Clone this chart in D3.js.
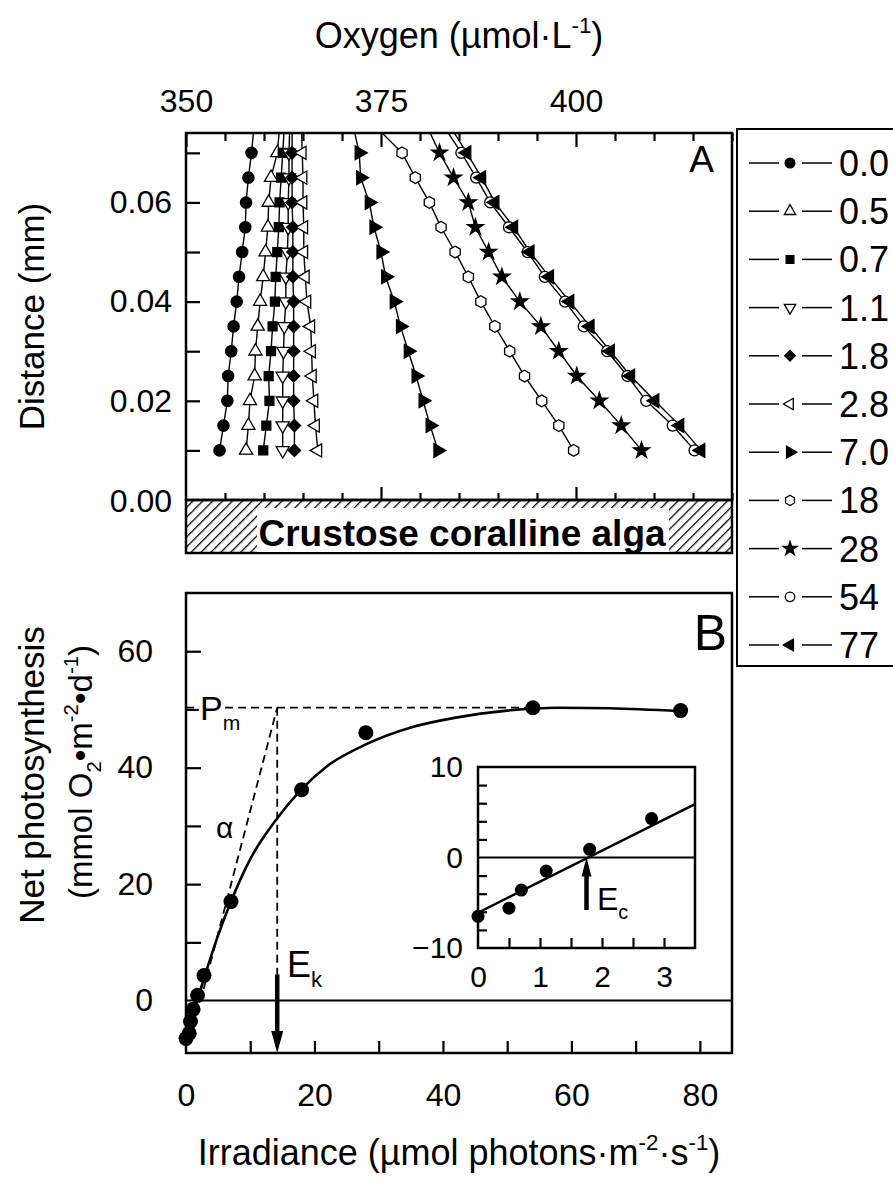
<!DOCTYPE html>
<html>
<head>
<meta charset="utf-8">
<script src="https://cdn.jsdelivr.net/npm/d3@7"></script>
<style>
  body { margin: 0; background: #fff; }
  text { font-family: 'Liberation Sans', Arial, Helvetica, sans-serif; fill: #000; }
</style>
</head>
<body>
<svg id="viz"></svg>
<script>
// ---- panel A data: oxygen profiles (umol/L) at each distance (mm) ----
const distances = [0.01, 0.015, 0.02, 0.025, 0.03, 0.035, 0.04, 0.045, 0.05, 0.055, 0.06, 0.065, 0.07, 0.075];
const irradianceLevels = ['0.0', '0.5', '0.7', '1.1', '1.8', '2.8', '7.0', '18', '28', '54', '77'];
const oxy00 = [354.3, 354.8, 355.3, 355.4, 355.8, 356.1, 356.5, 356.8, 357.2, 357.6, 357.7, 358.0, 358.4, 358.7];
const oxy05 = [357.7, 358.0, 358.2, 358.8, 358.9, 359.2, 359.5, 359.9, 360.2, 360.5, 360.6, 360.9, 361.7, 362.0];
const oxy07 = [359.9, 360.3, 360.7, 360.6, 360.9, 361.1, 361.4, 361.5, 361.7, 361.9, 362.0, 362.2, 362.4, 362.6];
const oxy11 = [362.4, 362.4, 362.4, 362.4, 362.5, 362.6, 362.8, 362.8, 363.0, 363.1, 363.1, 363.2, 363.2, 363.3];
const oxy18 = [363.9, 363.9, 363.8, 363.8, 363.8, 363.8, 363.8, 363.7, 363.7, 363.7, 363.6, 363.6, 363.6, 363.6];
const oxy28 = [366.9, 366.6, 366.4, 366.2, 366.1, 366.0, 365.5, 365.3, 365.1, 365.1, 365.0, 365.0, 364.9, 364.8];
const oxy70 = [382.3, 381.3, 380.4, 379.5, 378.5, 377.5, 376.7, 375.6, 375.0, 374.1, 373.5, 372.4, 372.2, 371.5];
const oxy180 = [399.7, 397.8, 395.6, 393.4, 391.5, 389.6, 387.8, 386.2, 384.5, 382.7, 381.2, 379.4, 377.7, 374.5];
const oxy280 = [408.4, 405.8, 403.0, 400.1, 397.8, 395.5, 392.8, 390.5, 388.8, 387.1, 386.2, 384.3, 382.5, 381.0];
const oxy540 = [415.2, 412.4, 409.0, 406.6, 404.0, 401.0, 398.6, 396.0, 393.8, 391.4, 389.0, 387.2, 385.3, 383.2];
const oxy770 = [416.0, 413.3, 410.1, 407.0, 404.4, 401.8, 399.2, 396.6, 394.1, 392.0, 389.6, 387.9, 386.0, 384.0];
const oxyTicks = [350, 375, 400];
const distTicks = [0.00, 0.02, 0.04, 0.06];

// ---- panel B data: P-E curve ----
const irradiance = [0, 0.5, 0.7, 1.1, 1.8, 2.8, 7.0, 18, 28, 54, 77];
const netPhoto = [-6.5, -5.6, -3.6, -1.5, 0.9, 4.3, 17.0, 36.2, 46.0, 50.3, 49.8];
const fitIrr = [0, 1, 2, 3, 5, 7, 10, 14, 18, 22, 28, 35, 42, 50, 58, 66, 77];
const fitNet = [-7.0, -3.0, 0.9, 4.5, 11.2, 17.0, 24.3, 31.0, 36.3, 40.3, 44.0, 46.9, 48.6, 49.8, 50.3, 50.2, 49.7];
const Pm = 50.3;
const Ek = 14.2;
const alphaStart = [1.2, -4.5];
const ekArrowTop = 4.5;
const irrTicks = [0, 20, 40, 60, 80];
const netTicks = [0, 20, 40, 60];
// inset
const insetLine = [[0, -6.1], [3.5, 5.9]];
const Ec = 1.75;
const ecArrowBottom = -5.8;
const insetXTicks = [0, 1, 2, 3];
const insetYTicks = [-10, 0, 10];

const W = 893, H = 1178;
const svg = d3.select('#viz').attr('width', W).attr('height', H);

// symbol helpers
const symHexagon = {
  draw(ctx, size) {
    const r = Math.sqrt(size / 2.598);
    for (let i = 0; i < 6; i++) {
      const a = (-90 + 60 * i) * Math.PI / 180;
      if (i === 0) ctx.moveTo(r * Math.cos(a), r * Math.sin(a));
      else ctx.lineTo(r * Math.cos(a), r * Math.sin(a));
    }
    ctx.closePath();
  }
};
const markers = [
  { type: d3.symbolCircle, rot: 0, filled: true, size: 100 },
  { type: d3.symbolTriangle, rot: 0, filled: false, size: 75 },
  { type: d3.symbolSquare, rot: 0, filled: true, size: 80 },
  { type: d3.symbolTriangle, rot: 180, filled: false, size: 75 },
  { type: d3.symbolSquare, rot: 45, filled: true, size: 75 },
  { type: d3.symbolTriangle, rot: -90, filled: false, size: 75 },
  { type: d3.symbolTriangle, rot: 90, filled: true, size: 82 },
  { type: symHexagon, rot: 0, filled: false, size: 90 },
  { type: d3.symbolStar, rot: 0, filled: true, size: 80 },
  { type: d3.symbolCircle, rot: 0, filled: false, size: 95 },
  { type: d3.symbolTriangle, rot: -90, filled: true, size: 82 }
];
const seriesValues = [oxy00, oxy05, oxy07, oxy11, oxy18, oxy28, oxy70, oxy180, oxy280, oxy540, oxy770];

function richText(sel, parts, size) {
  let cur = 0;
  parts.forEach(([t, k]) => {
    const target = k === 'sup' ? -size * 0.42 : k === 'sub' ? size * 0.28 : 0;
    const ts = sel.append('tspan').text(t).attr('dy', target - cur);
    if (k) ts.attr('font-size', size * 0.62);
    cur = target;
  });
}

function styleAxis(g, fs) {
  g.select('.domain').remove();
  g.selectAll('.tick line').attr('stroke', '#000').attr('stroke-width', 2.2);
  g.selectAll('.tick text').attr('font-size', fs).attr('fill', '#000')
    .style('font-family', "'Liberation Sans', Arial, sans-serif");
}

// ================= PANEL A =================
const xA = d3.scaleLinear().domain([350, 420]).range([186, 732]);
const yA = d3.scaleLinear().domain([0, 0.074]).range([500, 133]);

svg.append('defs').append('clipPath').attr('id', 'clipA')
  .append('rect').attr('x', 186).attr('y', 133).attr('width', 546).attr('height', 367);

const hatch = svg.select('defs').append('pattern').attr('id', 'hatch')
  .attr('patternUnits', 'userSpaceOnUse').attr('width', 7).attr('height', 7)
  .attr('patternTransform', 'rotate(45)');
hatch.append('line').attr('x1', 0).attr('y1', 0).attr('x2', 0).attr('y2', 7)
  .attr('stroke', '#000').attr('stroke-width', 2.6);

// alga band
svg.append('rect').attr('x', 186).attr('y', yA(0)).attr('width', 546).attr('height', 53)
  .attr('fill', 'url(#hatch)').attr('stroke', '#000').attr('stroke-width', 2.5);
svg.append('rect').attr('x', 257).attr('y', yA(0) + 8).attr('width', 412).attr('height', 44).attr('fill', '#fff');
svg.append('text').attr('x', 462).attr('y', 546).attr('text-anchor', 'middle')
  .attr('font-size', 37).attr('font-weight', 'bold').text('Crustose coralline alga');

// axes A
svg.append('g').attr('transform', `translate(0,${yA.range()[1]})`)
  .call(d3.axisTop(xA).tickValues(d3.range(350, 421, 5).filter(v => v % 25 !== 0)).tickSize(-8).tickFormat(''))
  .call(g => styleAxis(g, 30));
svg.append('g').attr('transform', `translate(0,${yA.range()[1]})`)
  .call(d3.axisTop(xA).tickValues(oxyTicks).tickSize(-14).tickPadding(21))
  .call(g => styleAxis(g, 32));
svg.append('g').attr('transform', `translate(0,${yA(0)})`)
  .call(d3.axisBottom(xA).tickValues(d3.range(355, 421, 5).filter(v => v % 25 !== 0)).tickSize(-7).tickFormat(''))
  .call(g => styleAxis(g, 30));
svg.append('g').attr('transform', `translate(0,${yA(0)})`)
  .call(d3.axisBottom(xA).tickValues([375, 400]).tickSize(-13).tickFormat(''))
  .call(g => styleAxis(g, 30));
svg.append('g').attr('transform', `translate(${xA.range()[0]},0)`)
  .call(d3.axisLeft(yA).tickValues([0.01, 0.03, 0.05, 0.07]).tickSize(-14).tickFormat(''))
  .call(g => styleAxis(g, 30));
svg.append('g').attr('transform', `translate(${xA.range()[0]},0)`)
  .call(d3.axisLeft(yA).tickValues(distTicks.slice(1)).tickSize(-14).tickPadding(14).tickFormat(d3.format('.2f')))
  .call(g => styleAxis(g, 32));
svg.append('text').attr('x', 172).attr('y', yA(0)).attr('dy', '0.36em').attr('text-anchor', 'end')
  .attr('font-size', 32).text(d3.format('.2f')(distTicks[0]));

// series
const plotA = svg.append('g').attr('clip-path', 'url(#clipA)');
const lineA = d3.line().x(d => xA(d[0])).y(d => yA(d[1]));
seriesValues.forEach((vals, i) => {
  const pts = vals.map((v, j) => [v, distances[j]]);
  plotA.append('path').attr('d', lineA(pts)).attr('fill', 'none')
    .attr('stroke', '#000').attr('stroke-width', 1.4);
});
seriesValues.forEach((vals, i) => {
  const m = markers[i];
  const pts = vals.map((v, j) => [v, distances[j]]).filter(p => p[1] <= yA.domain()[1]);
  plotA.selectAll(null).data(pts).join('path')
    .attr('d', d3.symbol().type(m.type).size(m.size))
    .attr('transform', d => `translate(${xA(d[0])},${yA(d[1])}) rotate(${m.rot})`)
    .attr('fill', m.filled ? '#000' : '#fff').attr('stroke', '#000').attr('stroke-width', 1.3);
});

svg.append('rect').attr('x', 186).attr('y', 133).attr('width', 546).attr('height', 367)
  .attr('fill', 'none').attr('stroke', '#000').attr('stroke-width', 2.5);
svg.append('text').attr('x', 714).attr('y', 172).attr('text-anchor', 'end').attr('font-size', 37).text('A');

// titles A
richText(svg.append('text').attr('x', 459).attr('y', 48).attr('text-anchor', 'middle').attr('font-size', 36),
  [['Oxygen (\u00b5mol\u00b7L', null], ['-1', 'sup'], [')', null]], 36);
svg.append('text').attr('transform', `translate(44,${(133 + 500) / 2}) rotate(-90)`)
  .attr('text-anchor', 'middle').attr('font-size', 35).text('Distance (mm)');

// legend
svg.append('rect').attr('x', 737).attr('y', 129).attr('width', 170).attr('height', 537)
  .attr('fill', '#fff').attr('stroke', '#000').attr('stroke-width', 2);
const legY = d3.scalePoint().domain(irradianceLevels).range([163, 645]);
irradianceLevels.forEach((lab, i) => {
  const y = legY(lab), m = markers[i];
  svg.append('line').attr('x1', 749).attr('x2', 779).attr('y1', y).attr('y2', y).attr('stroke', '#000').attr('stroke-width', 1.5);
  svg.append('line').attr('x1', 802).attr('x2', 832).attr('y1', y).attr('y2', y).attr('stroke', '#000').attr('stroke-width', 1.5);
  svg.append('path').attr('d', d3.symbol().type(m.type).size(m.size * 0.75))
    .attr('transform', `translate(790,${y}) rotate(${m.rot})`)
    .attr('fill', m.filled ? '#000' : '#fff').attr('stroke', '#000').attr('stroke-width', 1.3);
  svg.append('text').attr('x', 839).attr('y', y).attr('dy', '0.36em').attr('font-size', 36).text(lab);
});

// ================= PANEL B =================
const xB = d3.scaleLinear().domain([0, 85]).range([186, 732]);
const yB = d3.scaleLinear().domain([-9, 70]).range([1053, 593]);

svg.append('g').attr('transform', `translate(0,${yB.range()[0]})`)
  .call(d3.axisBottom(xB).tickValues(d3.range(10, 81, 20)).tickSize(-12).tickFormat(''))
  .call(g => styleAxis(g, 30));
svg.append('g').attr('transform', `translate(0,${yB.range()[0]})`)
  .call(d3.axisBottom(xB).tickValues(irrTicks).tickSize(-12).tickPadding(30))
  .call(g => styleAxis(g, 32))
  .call(g => g.select('.tick line').remove());
svg.append('g').attr('transform', `translate(${xB.range()[0]},0)`)
  .call(d3.axisLeft(yB).tickValues([10, 30, 50]).tickSize(-15).tickFormat(''))
  .call(g => styleAxis(g, 30));
svg.append('g').attr('transform', `translate(${xB.range()[0]},0)`)
  .call(d3.axisLeft(yB).tickValues(netTicks).tickSize(-15).tickPadding(33))
  .call(g => styleAxis(g, 32))
  .call(g => g.selectAll('.tick').filter(d => d === 0).select('line').remove());

// zero line
svg.append('line').attr('x1', xB(0)).attr('x2', xB(85)).attr('y1', yB(0)).attr('y2', yB(0))
  .attr('stroke', '#000').attr('stroke-width', 2);

// Pm dashed & Ek dashed & alpha
svg.append('line').attr('x1', xB(0)).attr('x2', xB(irradiance[9])).attr('y1', yB(Pm)).attr('y2', yB(Pm))
  .attr('stroke', '#000').attr('stroke-width', 1.8).attr('stroke-dasharray', '8,5');
svg.append('line').attr('x1', xB(Ek)).attr('x2', xB(Ek)).attr('y1', yB(Pm)).attr('y2', yB(ekArrowTop))
  .attr('stroke', '#000').attr('stroke-width', 1.8).attr('stroke-dasharray', '8,5');
svg.append('line').attr('x1', xB(alphaStart[0])).attr('y1', yB(alphaStart[1])).attr('x2', xB(Ek)).attr('y2', yB(Pm))
  .attr('stroke', '#000').attr('stroke-width', 1.8).attr('stroke-dasharray', '8,5');

// Ek arrow
svg.append('line').attr('x1', xB(Ek)).attr('x2', xB(Ek)).attr('y1', yB(ekArrowTop)).attr('y2', yB(-9) - 18)
  .attr('stroke', '#000').attr('stroke-width', 4.5);
svg.append('path')
  .attr('d', `M${xB(Ek) - 6},${yB(-9) - 22} L${xB(Ek) + 6},${yB(-9) - 22} L${xB(Ek)},${yB(-9)} Z`)
  .attr('fill', '#000');

// fit curve
svg.append('path').datum(fitIrr.map((e, i) => [e, fitNet[i]]))
  .attr('d', d3.line().x(d => xB(d[0])).y(d => yB(d[1])).curve(d3.curveMonotoneX))
  .attr('fill', 'none').attr('stroke', '#000').attr('stroke-width', 2.6);

// points
svg.selectAll(null).data(irradiance.map((e, i) => [e, netPhoto[i]])).join('circle')
  .attr('cx', d => xB(d[0])).attr('cy', d => yB(d[1])).attr('r', 7.5).attr('fill', '#000');

// frame B
svg.append('rect').attr('x', 186).attr('y', 593).attr('width', 546).attr('height', 460)
  .attr('fill', 'none').attr('stroke', '#000').attr('stroke-width', 2.5);

// annotations B
richText(svg.append('text').attr('x', 200).attr('y', 720).attr('font-size', 34)
  .attr('stroke', '#fff').attr('stroke-width', 8).attr('paint-order', 'stroke'),
  [['P', null], ['m', 'sub']], 34);
svg.append('text').attr('x', 216).attr('y', 838).attr('font-size', 30).text('\u03b1');
richText(svg.append('text').attr('x', 287).attr('y', 977).attr('font-size', 36), [['E', null], ['k', 'sub']], 36);
svg.append('text').attr('x', 727).attr('y', 650).attr('text-anchor', 'end').attr('font-size', 50).text('B');

// titles B
svg.append('text').attr('transform', `translate(44,775) rotate(-90)`)
  .attr('text-anchor', 'middle').attr('font-size', 35).text('Net photosynthesis');
richText(svg.append('text').attr('transform', `translate(92,772) rotate(-90)`)
  .attr('text-anchor', 'middle').attr('font-size', 33),
  [['(mmol O', null], ['2', 'sub'], ['\u2022m', null], ['-2', 'sup'], ['\u2022d', null], ['-1', 'sup'], [')', null]], 33);
richText(svg.append('text').attr('x', 459).attr('y', 1165).attr('text-anchor', 'middle').attr('font-size', 36),
  [['Irradiance (\u00b5mol photons\u00b7m', null], ['-2', 'sup'], ['\u00b7s', null], ['-1', 'sup'], [')', null]], 36);

// ================= INSET =================
const xI = d3.scaleLinear().domain([0, 3.5]).range([478, 695]);
const yI = d3.scaleLinear().domain([-10, 10]).range([948, 767]);

svg.append('rect').attr('x', 478).attr('y', 767).attr('width', 217).attr('height', 181)
  .attr('fill', '#fff').attr('stroke', '#000').attr('stroke-width', 2.5);
svg.append('g').attr('transform', `translate(0,${yI.range()[0]})`)
  .call(d3.axisBottom(xI).tickValues(d3.range(0.5, 3.5, 0.5)).tickSize(-10).tickFormat(''))
  .call(g => styleAxis(g, 28));
svg.append('g').attr('transform', `translate(0,${yI.range()[0]})`)
  .call(d3.axisBottom(xI).tickValues(insetXTicks).tickSize(0).tickPadding(18).tickFormat(d3.format('d')))
  .call(g => styleAxis(g, 30));
svg.append('g').attr('transform', `translate(${xI.range()[0]},0)`)
  .call(d3.axisLeft(yI).tickValues([-8, -6, -4, -2, 2, 4, 6, 8]).tickSize(-9).tickFormat(''))
  .call(g => styleAxis(g, 28));
svg.append('g').attr('transform', `translate(${xI.range()[0]},0)`)
  .call(d3.axisLeft(yI).tickValues(insetYTicks).tickSize(0).tickPadding(15).tickFormat(d3.format('d')))
  .call(g => styleAxis(g, 30));
svg.append('line').attr('x1', xI(0)).attr('x2', xI(3.5)).attr('y1', yI(0)).attr('y2', yI(0))
  .attr('stroke', '#000').attr('stroke-width', 2);
svg.append('line').attr('x1', xI(insetLine[0][0])).attr('y1', yI(insetLine[0][1]))
  .attr('x2', xI(insetLine[1][0])).attr('y2', yI(insetLine[1][1]))
  .attr('stroke', '#000').attr('stroke-width', 2.4);
svg.selectAll(null).data(irradiance.slice(0, 6).map((e, i) => [e, netPhoto[i]])).join('circle')
  .attr('cx', d => xI(d[0])).attr('cy', d => yI(d[1])).attr('r', 6.5).attr('fill', '#000');
// Ec arrow
svg.append('line').attr('x1', xI(Ec)).attr('x2', xI(Ec)).attr('y1', yI(ecArrowBottom)).attr('y2', yI(0) + 16)
  .attr('stroke', '#000').attr('stroke-width', 4.5);
svg.append('path')
  .attr('d', `M${xI(Ec) - 5},${yI(0) + 19} L${xI(Ec) + 5},${yI(0) + 19} L${xI(Ec)},${yI(0)} Z`)
  .attr('fill', '#000');
richText(svg.append('text').attr('x', 597).attr('y', 910).attr('font-size', 32), [['E', null], ['c', 'sub']], 32);
</script>
</body>
</html>
